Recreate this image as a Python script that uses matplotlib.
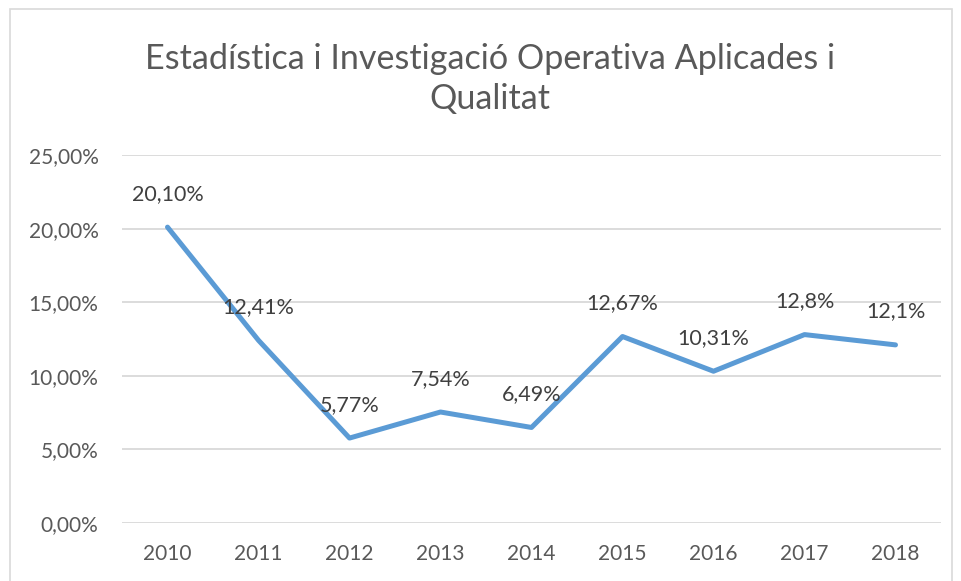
import matplotlib
matplotlib.use("Agg")
import matplotlib.pyplot as plt
from matplotlib.patches import Rectangle

years = ["2010", "2011", "2012", "2013", "2014", "2015", "2016", "2017", "2018"]
values = [20.10, 12.41, 5.77, 7.54, 6.49, 12.67, 10.31, 12.8, 12.1]
labels = ["20,10%", "12,41%", "5,77%", "7,54%", "6,49%", "12,67%", "10,31%", "12,8%", "12,1%"]
yticks = [0, 5, 10, 15, 20, 25]
ytick_labels = ["0,00%", "5,00%", "10,00%", "15,00%", "20,00%", "25,00%"]
title = "Estadística i Investigació Operativa Aplicades i\nQualitat"

plt.rcParams['font.family'] = ['Lato', 'DejaVu Sans']

W, H = 961, 581
fig = plt.figure(figsize=(W / 100, H / 100), dpi=100)
fig.patch.set_facecolor("white")

# chart border
fig.patches.append(Rectangle((10 / W, -0.05), (952 - 10) / W, (H - 9) / H + 0.05,
                             transform=fig.transFigure, fill=False,
                             edgecolor="#D9D9D9", linewidth=1.2))

ax = fig.add_axes([122 / W, (H - 523) / H, (941 - 122) / W, (523 - 155) / H])
x = list(range(len(years)))
ax.plot(x, values, color="#5B9BD5", linewidth=3.6, solid_capstyle="round", solid_joinstyle="round", zorder=3)

for xi, v, lab in zip(x, values, labels):
    ax.annotate(lab, (xi, v), xytext=(0, 24), textcoords="offset points",
                ha="center", va="center", fontsize=15.5, color="#404040")

ax.set_xlim(-0.5, len(years) - 0.5)
ax.set_ylim(0, 25)
ax.set_yticks(yticks)
ax.set_yticklabels(ytick_labels)
ax.set_xticks(x)
ax.set_xticklabels(years)
ax.grid(axis="y", color="#D9D9D9", linewidth=1.3)
ax.set_axisbelow(True)
for s in ax.spines.values():
    s.set_visible(False)
ax.tick_params(axis="both", length=0, labelsize=15, labelcolor="#595959")
ax.tick_params(axis="y", pad=17)
ax.tick_params(axis="x", pad=15)

fig.text(490 / W, 1 - 79 / H, title, ha="center", va="center", fontsize=24.6,
         color="#595959", linespacing=1.3)

fig.savefig("out.png", dpi=100)
